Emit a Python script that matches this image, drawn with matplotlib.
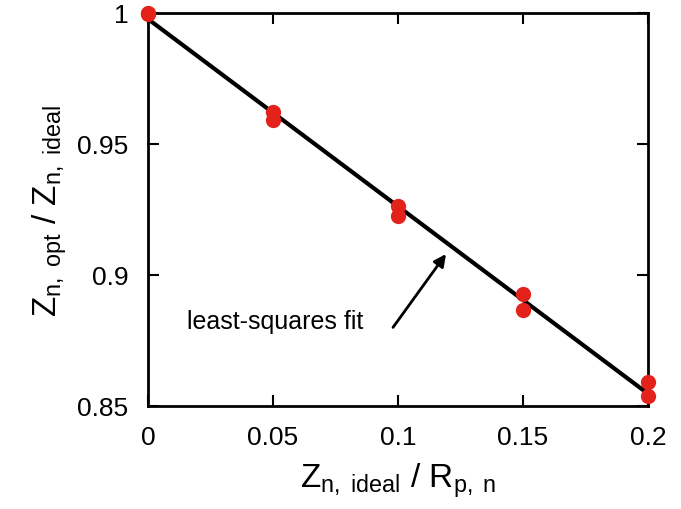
import numpy as np
import matplotlib.pyplot as plt

plt.rcParams['font.family'] = ['Liberation Sans', 'DejaVu Sans']
plt.rcParams['mathtext.fontset'] = 'custom'
plt.rcParams['mathtext.rm'] = 'Liberation Sans'
plt.rcParams['mathtext.it'] = 'Liberation Sans'

# measured points (two runs per x)
x_pts = [0.0, 0.0, 0.05, 0.05, 0.1, 0.1, 0.15, 0.15, 0.2, 0.2]
y_pts = [1.0, 0.9995, 0.9622, 0.9592, 0.9263, 0.9225, 0.8927, 0.8866, 0.8592, 0.8538]

x_ticks = [0, 0.05, 0.1, 0.15, 0.2]
x_labels = ['0', '0.05', '0.1', '0.15', '0.2']
y_ticks = [0.85, 0.9, 0.95, 1.0]
y_labels = ['0.85', '0.9', '0.95', '1']

# least-squares fit line
coef = np.polyfit(x_pts, y_pts, 1)
x_fit = np.array([0.0, 0.2])
y_fit = np.polyval(coef, x_fit)

fig = plt.figure(figsize=(6.81, 5.10), dpi=100)
ax = fig.add_axes([148 / 681, 103 / 510, 500 / 681, 393 / 510])

ax.plot(x_fit, y_fit, color='black', lw=3, zorder=2)
ax.plot(x_pts, y_pts, 'o', color='#e3221b', ms=11, mec='none', zorder=3, clip_on=False)

# label and arrow
ax.text(0.0508, 0.8824, 'least-squares fit', ha='center', va='center', fontsize=18)
ax.annotate('', xy=(0.1192, 0.908), xytext=(0.098, 0.880),
            arrowprops=dict(arrowstyle='-|>', color='black', lw=2,
                            mutation_scale=18, shrinkA=0, shrinkB=0))

ax.set_xlim(0, 0.2)
ax.set_ylim(0.85, 1.0)
ax.set_xticks(x_ticks)
ax.set_xticklabels(x_labels)
ax.set_yticks(y_ticks)
ax.set_yticklabels(y_labels)
ax.tick_params(direction='in', length=8, width=1.5, labelsize=19,
               top=True, right=True, pad=14)
for s in ax.spines.values():
    s.set_linewidth(2)

ax.set_xlabel(r'$\mathrm{Z_{n,\ ideal}\ /\ R_{p,\ n}}$', fontsize=24, labelpad=8)
ax.set_ylabel(r'$\mathrm{Z_{n,\ opt}\ /\ Z_{n,\ ideal}}$', fontsize=24, labelpad=6)

fig.savefig('out.png', dpi=100)
